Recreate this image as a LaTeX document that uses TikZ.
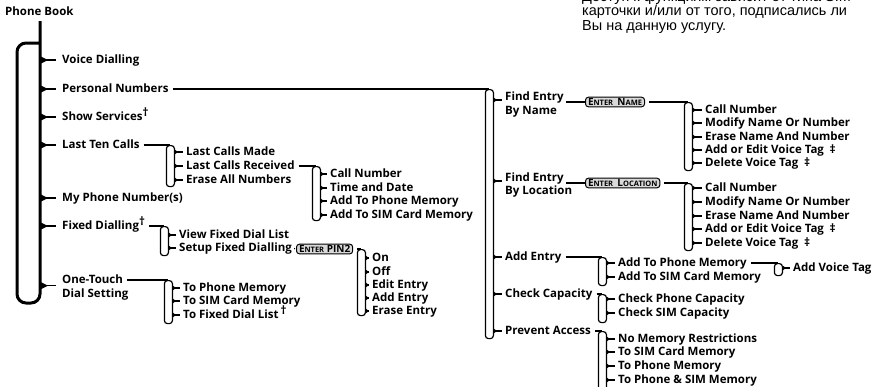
\documentclass[tikz,border=0pt]{standalone}
\usepackage{fontspec}
\setmainfont{Open Sans}
\newfontfamily\notefont{Liberation Sans}
\usetikzlibrary{positioning}
\newcommand{\sck}[1]{{\fontsize{7.5}{8}\selectfont #1}}
\newcommand{\dg}[1]{\raisebox{3.5pt}{#1}}

\begin{document}
\begin{tikzpicture}[x=1pt,y=-1pt,font=\fontsize{11.5}{14}\selectfont\bfseries,
 item/.style={anchor=west,inner sep=0pt,text height=8.5pt,text depth=2.5pt},
 note/.style={anchor=base west,inner sep=0pt,font=\notefont\fontsize{14.5}{15}\selectfont},
 key/.style={draw,line width=1pt,rounded corners=3pt,fill=gray!30,anchor=west,inner xsep=2.5pt,inner ysep=1.2pt,text height=7pt,text depth=0.3pt,font=\fontsize{10}{10}\selectfont\bfseries},
 brk/.style={draw,line width=1.2pt,rounded corners=3pt,minimum width=8pt,inner sep=0pt,anchor=north east},
 link/.style={line width=1.2pt},
 spine/.style={line width=3pt,rounded corners=9pt}]
\useasboundingbox (0,0) rectangle (883,386);
\clip (0,0) rectangle (883,386);
% note in the corner
\node[note] (n1) at (582,1) {Доступ к функциям зависит от типа SIM};
\node[note] (n2) at (582,15.8) {карточки и/или от того, подписались ли};
\node[note] (n3) at (582,30.6) {Вы на данную услугу.};
% main menu
\node[item] (pb) at (5,12) {Phone Book};
\coordinate (spine) at (40,21);
\node[item] (vd) at (62,60) {Voice Dialling};
\node[item] (pn) at (62,89) {Personal Numbers};
\node[item] (ss) at (62,117) {Show Services\dg{†}};
\node[item] (ltc) at (62,145) {Last Ten Calls};
\node[item] (mpn) at (62,198) {My Phone Number(s)};
\node[item] (fd) at (62,226) {Fixed Dialling\dg{†}};
\node[item] (ot) at (62,280) {One-Touch};
\node[item] (ds) at (62,294) {Dial Setting};
\draw[spine] (spine) -- (40,303) -- (17,303) -- (17,43) -- (40,43);
\foreach \c in {vd,pn,ss,ltc,mpn,fd}{
 \fill (spine |- \c.west) +(-1,-4.5) -- +(8,0) -- +(-1,4.5) -- cycle;
 \draw[line width=1.5pt] (spine |- \c.west) -- ([xshift=-6pt]\c.west);}
\fill (spine |- ot.south west) +(-1,-4.5) -- +(8,0) -- +(-1,4.5) -- cycle;
\draw[line width=1.5pt] (spine |- ot.south west) -- ([xshift=-6pt]ot.south west);
% last ten calls
\node[brk,minimum height=41pt] (bltc) at (175,145) {};
\node[item] (lcm) at (186,152) {Last Calls Made};
\node[item] (lcr) at (186,166) {Last Calls Received};
\node[item] (ean) at (186,180) {Erase All Numbers};
\node[brk,minimum height=54pt] (blcr) at (321,166) {};
\node[item] (ccn) at (330,174) {Call Number};
\node[item] (ctd) at (330,188) {Time and Date};
\node[item] (cap) at (330,201) {Add To Phone Memory};
\node[item] (cas) at (330,215) {Add To SIM Card Memory};
% fixed dialling
\node[brk,minimum height=29pt] (bfd) at (169,226) {};
\node[item] (vfd) at (179,235) {View Fixed Dial List};
\node[item] (sfd) at (179,248) {Setup Fixed Dialling};
\node[key] (kp) at (296,249) {E\sck{NTER} PIN2};
\node[brk,minimum height=66pt] (bkp) at (366,249) {};
\node[item] (fon) at (372,258) {On};
\node[item] (fof) at (372,272) {Off};
\node[item] (fee) at (372,285) {Edit Entry};
\node[item] (fae) at (372,298) {Add Entry};
\node[item] (fer) at (372,311) {Erase Entry};
% one-touch dial
\node[brk,minimum height=43pt] (bot) at (173,280) {};
\node[item] (otp) at (183,288) {To Phone Memory};
\node[item] (ots) at (183,301) {To SIM Card Memory};
\node[item] (otf) at (183,315) {To Fixed Dial List\,\dg{†}};
% personal numbers
\node[brk,minimum height=249pt] (bpn) at (494,89) {};
\node[item] (fen) at (505,97) {Find Entry};
\node[item] (byn) at (505,111) {By Name};
\node[item] (fel) at (505,178) {Find Entry};
\node[item] (byl) at (505,191) {By Location};
\node[item] (ade) at (505,257) {Add Entry};
\node[item] (chc) at (505,294) {Check Capacity};
\node[item] (pra) at (505,331) {Prevent Access};
\node[key] (kn) at (585,102) {E\sck{NTER}\, N\sck{AME}};
\node[brk,minimum height=68pt] (bkn) at (693,102) {};
\node[item] (kcn) at (705,110) {Call Number};
\node[item] (kmn) at (705,123) {Modify Name Or Number};
\node[item] (ken) at (705,137) {Erase Name And Number};
\node[item] (kav) at (705,150) {Add or Edit Voice Tag\enspace‡};
\node[item] (kdv) at (705,163) {Delete Voice Tag\enspace‡};
\node[key] (kl) at (585,183) {E\sck{NTER}\, L\sck{OCATION}};
\node[brk,minimum height=67pt] (bkl) at (693,183) {};
\node[item] (lcn) at (705,188) {Call Number};
\node[item] (lmn) at (705,202) {Modify Name Or Number};
\node[item] (len) at (705,216) {Erase Name And Number};
\node[item] (lav) at (705,229) {Add or Edit Voice Tag\enspace‡};
\node[item] (ldv) at (705,243) {Delete Voice Tag\enspace‡};
\node[brk,minimum height=28pt] (bade) at (607,257) {};
\node[item] (apm) at (618,263) {Add To Phone Memory};
\node[item] (asm) at (618,277) {Add To SIM Card Memory};
\node[brk,minimum height=12pt] (bapm) at (783,263) {};
\node[item] (avt) at (793,268) {Add Voice Tag};
\node[brk,minimum height=28pt] (bchc) at (607,294) {};
\node[item] (cpc) at (618,299) {Check Phone Capacity};
\node[item] (csc) at (618,313) {Check SIM Capacity};
\node[brk,minimum height=62pt] (bpra) at (607,331) {};
\node[item] (nmr) at (618,339) {No Memory Restrictions};
\node[item] (tsc) at (618,352) {To SIM Card Memory};
\node[item] (tpm) at (618,366) {To Phone Memory};
\node[item] (tps) at (618,380) {To Phone \& SIM Memory};
% parent to bracket
\foreach \p/\b in {ltc/bltc,lcr/blcr,fd/bfd,ot/bot,pn/bpn,ade/bade,apm/bapm,chc/bchc,pra/bpra,kp/bkp,kn/bkn,kl/bkl}
 \draw[link,shorten <=4pt] (\p.east) -- (\p.east -| \b.north);
\draw[link,shorten <=2pt,shorten >=1pt] (sfd.east) -- (kp.west);
\draw[link,shorten <=2pt] (fen.base east |- kn.west) -- (kn.west);
\draw[link,shorten <=2pt] (fel.base east |- kl.west) -- (kl.west);
% bracket to child
\foreach \b/\c in {bltc/lcm,bltc/lcr,bltc/ean,blcr/ccn,blcr/ctd,blcr/cap,blcr/cas,
 bfd/vfd,bfd/sfd,bkp/fon,bkp/fof,bkp/fee,bkp/fae,bkp/fer,bot/otp,bot/ots,bot/otf,
 bpn/ade,bpn/chc,bpn/pra,bkn/kcn,bkn/kmn,bkn/ken,bkn/kav,bkn/kdv,
 bkl/lcn,bkl/lmn,bkl/len,bkl/lav,bkl/ldv,bade/apm,bade/asm,bapm/avt,
 bchc/cpc,bchc/csc,bpra/nmr,bpra/tsc,bpra/tpm,bpra/tps}{
 \fill (\b.east |- \c.west) +(0,-2.2) -- +(3,0) -- +(0,2.2) -- cycle;
 \draw[link] (\b.east |- \c.west) -- ([xshift=-3pt]\c.west);}
\foreach \c in {fen,fel}{
 \fill (bpn.east |- \c.base west) +(0,-2.2) -- +(3,0) -- +(0,2.2) -- cycle;
 \draw[link] (bpn.east |- \c.base west) -- ([xshift=-3pt]\c.base west);}
\end{tikzpicture}
\end{document}
